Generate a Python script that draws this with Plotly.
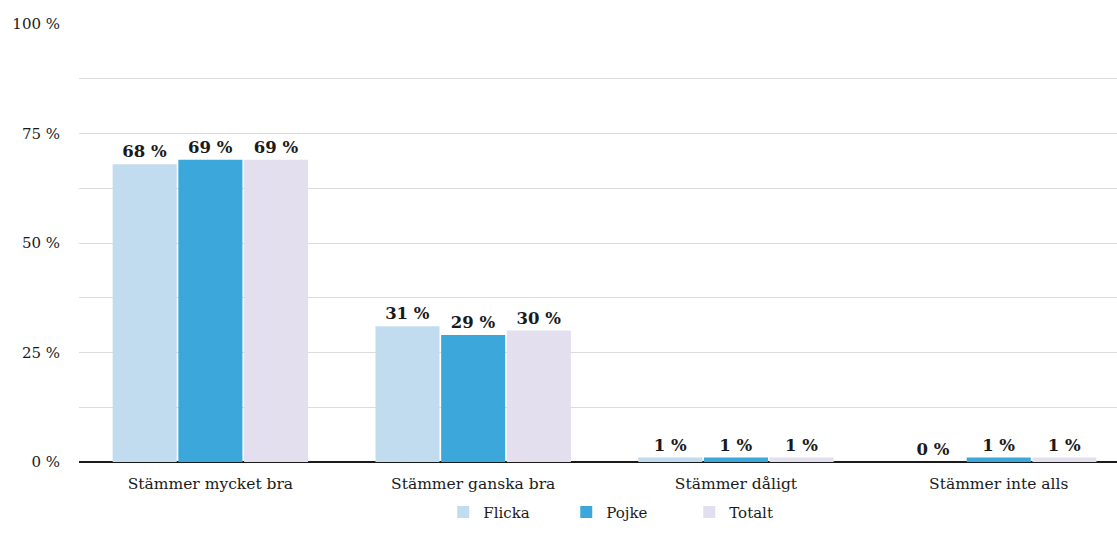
import plotly.graph_objects as go

categories = ["Stämmer mycket bra", "Stämmer ganska bra", "Stämmer dåligt", "Stämmer inte alls"]
flicka = [68, 31, 1, 0]
pojke = [69, 29, 1, 1]
totalt = [69, 30, 1, 1]
series_names = ["Flicka", "Pojke", "Totalt"]
colors = ["#c2dcef", "#3ba7da", "#e4dfee"]
tick_vals = [0, 25, 50, 75, 100]
tick_text = ["0 %", "25 %", "50 %", "75 %", "100 %"]

FONT = "DejaVu Serif"

fig = go.Figure()
for name, vals, col in zip(series_names, [flicka, pojke, totalt], colors):
    fig.add_trace(go.Bar(
        name=name, x=categories, y=vals,
        marker=dict(color=col, line=dict(width=0)),
        text=[f"{v} %" for v in vals], textposition="outside",
        textfont=dict(family=FONT, size=16.5, color="#1a1a1a", weight="bold"),
        cliponaxis=False,
    ))

fig.update_layout(
    width=1117, height=546,
    margin=dict(l=79, r=0, t=24, b=84, autoexpand=False),
    paper_bgcolor="white", plot_bgcolor="white",
    barmode="group", bargap=0.25, bargroupgap=0.025,
    font=dict(family=FONT, size=15, color="#1a1a1a"),
    legend=dict(orientation="h", x=0.562, xanchor="center", xref="container",
                y=0.062, yanchor="middle", yref="container",
                font=dict(family=FONT, size=15), traceorder="normal",
                itemwidth=30, entrywidth=78),
    showlegend=True,
)
fig.update_xaxes(range=[-0.5, 3.45], showgrid=False, showline=False, ticks="",
                 automargin=False, ticklabelstandoff=10,
                 tickfont=dict(family=FONT, size=15.5))
fig.update_yaxes(range=[0, 100], tickvals=tick_vals, ticktext=tick_text,
                 showgrid=True, gridcolor="#dcdcdc", gridwidth=1,
                 minor=dict(dtick=12.5, tick0=0, showgrid=True, gridcolor="#dcdcdc", gridwidth=1),
                 zeroline=True, zerolinecolor="#1a1a1a", zerolinewidth=2,
                 ticklabelstandoff=18, automargin=False,
                 tickfont=dict(family=FONT, size=15))

fig.write_html("out.html", config={"displayModeBar": False},
               post_script="document.body.style.margin='0';")
